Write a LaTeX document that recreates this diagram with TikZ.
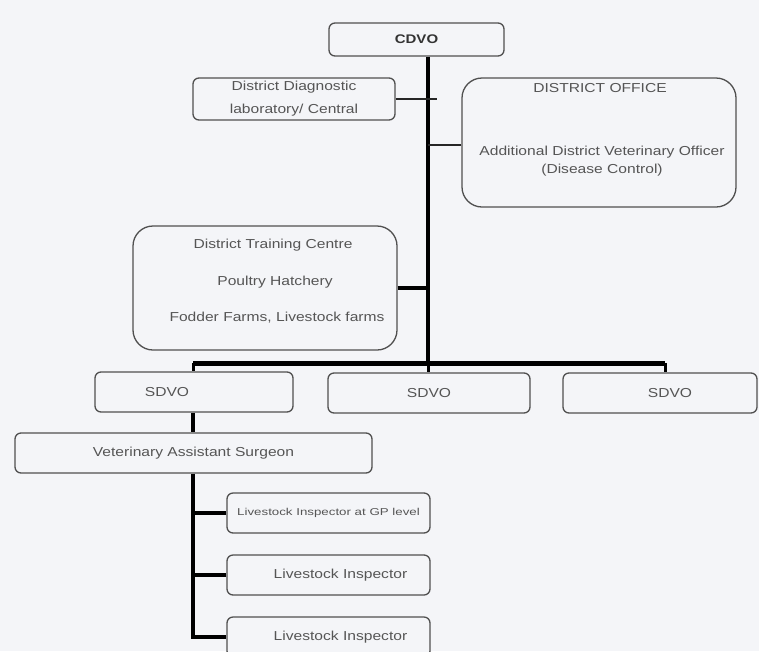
\documentclass[tikz,border=0pt]{standalone}
\usepackage{fontspec}
\usepackage{graphicx}
\setmainfont{Liberation Sans}
\definecolor{bg}{RGB}{244,245,248}
\definecolor{boxgray}{RGB}{80,80,80}
\definecolor{txtgray}{RGB}{85,85,85}
\newcommand\wtxt[1]{\scalebox{1.2}[1]{#1}}
\tikzset{
  box/.style={draw=boxgray, line width=1.3pt, rounded corners=6pt, fill=bg, inner sep=0pt,
    text=txtgray, font=\fontsize{13}{23}\selectfont, align=center},
  bigbox/.style={box, rounded corners=20pt},
  txt/.style={text=txtgray, font=\fontsize{13}{15}\selectfont, inner sep=0pt},
  thick line/.style={line width=4pt, black},
  bar line/.style={line width=5pt, black},
  thin line/.style={line width=1.8pt, black!85},
}
\begin{document}
\begin{tikzpicture}[x=1pt,y=-1pt]
\fill[bg] (0,0) rectangle (759,651);
\useasboundingbox (0,0) rectangle (759,651);
\clip (0,0) rectangle (759,651);

% junction coordinates
\coordinate (tb) at (428,363);
\coordinate (bl) at (193,363);
\coordinate (br) at (665,363);
\coordinate (ddlend) at (437,99);

% nodes
\node[box, minimum width=175pt, minimum height=33pt, font=\fontsize{12.5}{15}\selectfont\bfseries, text=black!80] (cdvo) at (416.5,39.5) {\wtxt{CDVO}};
\node[box, minimum width=202pt, minimum height=42pt] (ddl) at (294,99) {\wtxt{District Diagnostic}\\\wtxt{laboratory/ Central}};
\node[bigbox, minimum width=274pt, minimum height=129pt] (office) at (599,142.5) {};
\node[txt] (officetitle) at (600,88) {\wtxt{DISTRICT OFFICE}};
\node[txt] (officel1) at (602,152) {\wtxt{Additional District Veterinary Officer}};
\node[txt] (officel2) at (602,170) {\wtxt{(Disease Control)}};
\node[bigbox, minimum width=264pt, minimum height=124pt] (train) at (265,288) {};
\node[txt] (train1) at (273,245) {\wtxt{District Training Centre}};
\node[txt] (train2) at (275,282) {\wtxt{Poultry Hatchery}};
\node[txt] (train3) at (277,318) {\wtxt{Fodder Farms, Livestock farms}};

\node[box, minimum width=198pt, minimum height=40pt] (sdvo1) at (194,392) {\kern-27pt\wtxt{SDVO}\kern27pt};
\node[box, minimum width=202pt, minimum height=40pt] (sdvo2) at (429,393) {\wtxt{SDVO}};
\node[box, minimum width=194pt, minimum height=40pt] (sdvo3) at (660,393) {\kern10pt\wtxt{SDVO}\kern-10pt};

\node[box, minimum width=357pt, minimum height=40pt] (vas) at (193.5,453) {\wtxt{Veterinary Assistant Surgeon}};
\node[box, minimum width=203pt, minimum height=40pt, font=\fontsize{10}{12}\selectfont] (li1) at (328.5,513) {\scalebox{1.33}[1]{Livestock Inspector at GP level}};
\node[box, minimum width=203pt, minimum height=40pt] (li2) at (328.5,575) {\kern12pt\wtxt{Livestock Inspector}\kern-12pt};
\node[box, minimum width=203pt, minimum height=40pt] (li3) at (328.5,637) {\kern12pt\wtxt{Livestock Inspector}\kern-12pt};

% connectors
\draw[thick line] (cdvo.south -| tb) -- (tb);
\draw[thin line] (ddl.east) -- (ddlend);
\draw[thin line, line width=1.5pt] (office.west |- 0,145) -- (tb |- 0,145);
\draw[thick line] (train.east) -- (train.east -| tb);
\draw[bar line] (bl) -- (br);
\draw[line width=3pt] (bl) -- (sdvo1.north -| bl);
\draw[line width=3pt] (tb) -- (sdvo2.north -| tb);
\draw[line width=3pt] (br) -- (sdvo3.north -| br);
\draw[thick line] (sdvo1.south -| bl) -- (vas.north -| bl);
\draw[thick line] (vas.south -| bl) |- (li3.west);
\draw[thick line] (li1.west) -- (li1.west -| bl);
\draw[thick line] (li2.west) -- (li2.west -| bl);
\end{tikzpicture}
\end{document}
